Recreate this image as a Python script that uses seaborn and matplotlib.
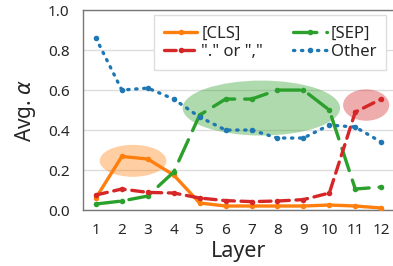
import numpy as np
import pandas as pd
import matplotlib
matplotlib.use("Agg")
import matplotlib.pyplot as plt
from matplotlib.patches import Ellipse
import seaborn as sns

layers = list(range(1, 13))
cls_vals = [0.06, 0.268, 0.255, 0.175, 0.035, 0.02, 0.02, 0.02, 0.02, 0.025, 0.02, 0.01]
sep_vals = [0.03, 0.045, 0.07, 0.19, 0.475, 0.555, 0.555, 0.60, 0.60, 0.50, 0.105, 0.115]
punct_vals = [0.075, 0.105, 0.088, 0.085, 0.06, 0.047, 0.042, 0.045, 0.052, 0.085, 0.49, 0.555]
other_vals = [0.86, 0.60, 0.61, 0.555, 0.465, 0.40, 0.40, 0.36, 0.36, 0.425, 0.415, 0.34]
names = ["[CLS]", "[SEP]", '"." or ","', "Other"]

sns.set_style("whitegrid")
plt.rcParams["font.family"] = ["Noto Sans", "DejaVu Sans"]

fig = plt.figure(figsize=(3.93, 2.66), dpi=100)
ax = fig.add_axes([0.211, 0.2105, 0.792, 0.7515])

colors = ["#ff7f0e", "#2ca02c", "#d62728", "#1f77b4"]
dashes = [(None, None), (7, 3), (3.5, 2), (0.4, 2.0)]
series = [cls_vals, sep_vals, punct_vals, other_vals]

# highlight regions
ax.add_patch(Ellipse((2.43, 0.246), 2.57, 0.16, color="#ff7f0e", alpha=0.38, lw=0, zorder=1))
ax.add_patch(Ellipse((7.38, 0.51), 6.07, 0.275, color="#2ca02c", alpha=0.38, lw=0, zorder=1))
ax.add_patch(Ellipse((11.42, 0.525), 1.78, 0.157, color="#d62728", alpha=0.38, lw=0, zorder=1))

lines = []
for name, vals, c, d in zip(names, series, colors, dashes):
    sns.lineplot(x=layers, y=vals, ax=ax, color=c, lw=2.4, marker="o",
                 markersize=4, markeredgewidth=0, label=name, zorder=3)
    ln = ax.lines[-1]
    if d[0] is not None:
        ln.set_dashes(d)
        ln.set_dash_capstyle("round")
    lines.append(ln)

ax.set_xlim(0.5, 12.5)
ax.set_ylim(0, 1.0)
ax.set_xticks(layers)
ax.set_yticks(np.arange(0, 1.01, 0.2))
ax.set_yticklabels(["0.0", "0.2", "0.4", "0.6", "0.8", "1.0"])
ax.tick_params(labelsize=11, pad=6)
ax.grid(axis="x", visible=False)
ax.grid(axis="y", color="#dddddd", lw=1)
for s in ax.spines.values():
    s.set_color("#777777")
    s.set_linewidth(1)

ax.set_xlabel("Layer", fontsize=15.5, labelpad=2)
ax.set_ylabel(r"Avg. $\alpha$", fontsize=15, labelpad=7)

order = [0, 2, 1, 3]
ax.legend([lines[i] for i in order], [names[i] for i in order], ncol=2,
          loc="upper right", bbox_to_anchor=(0.985, 0.99), fontsize=12,
          handlelength=2.0, handletextpad=0.25, columnspacing=1.8,
          labelspacing=0.15, borderpad=0.6, frameon=True, framealpha=1,
          edgecolor="#dddddd", fancybox=False, borderaxespad=0.2)

fig.savefig("out.png", dpi=100)
